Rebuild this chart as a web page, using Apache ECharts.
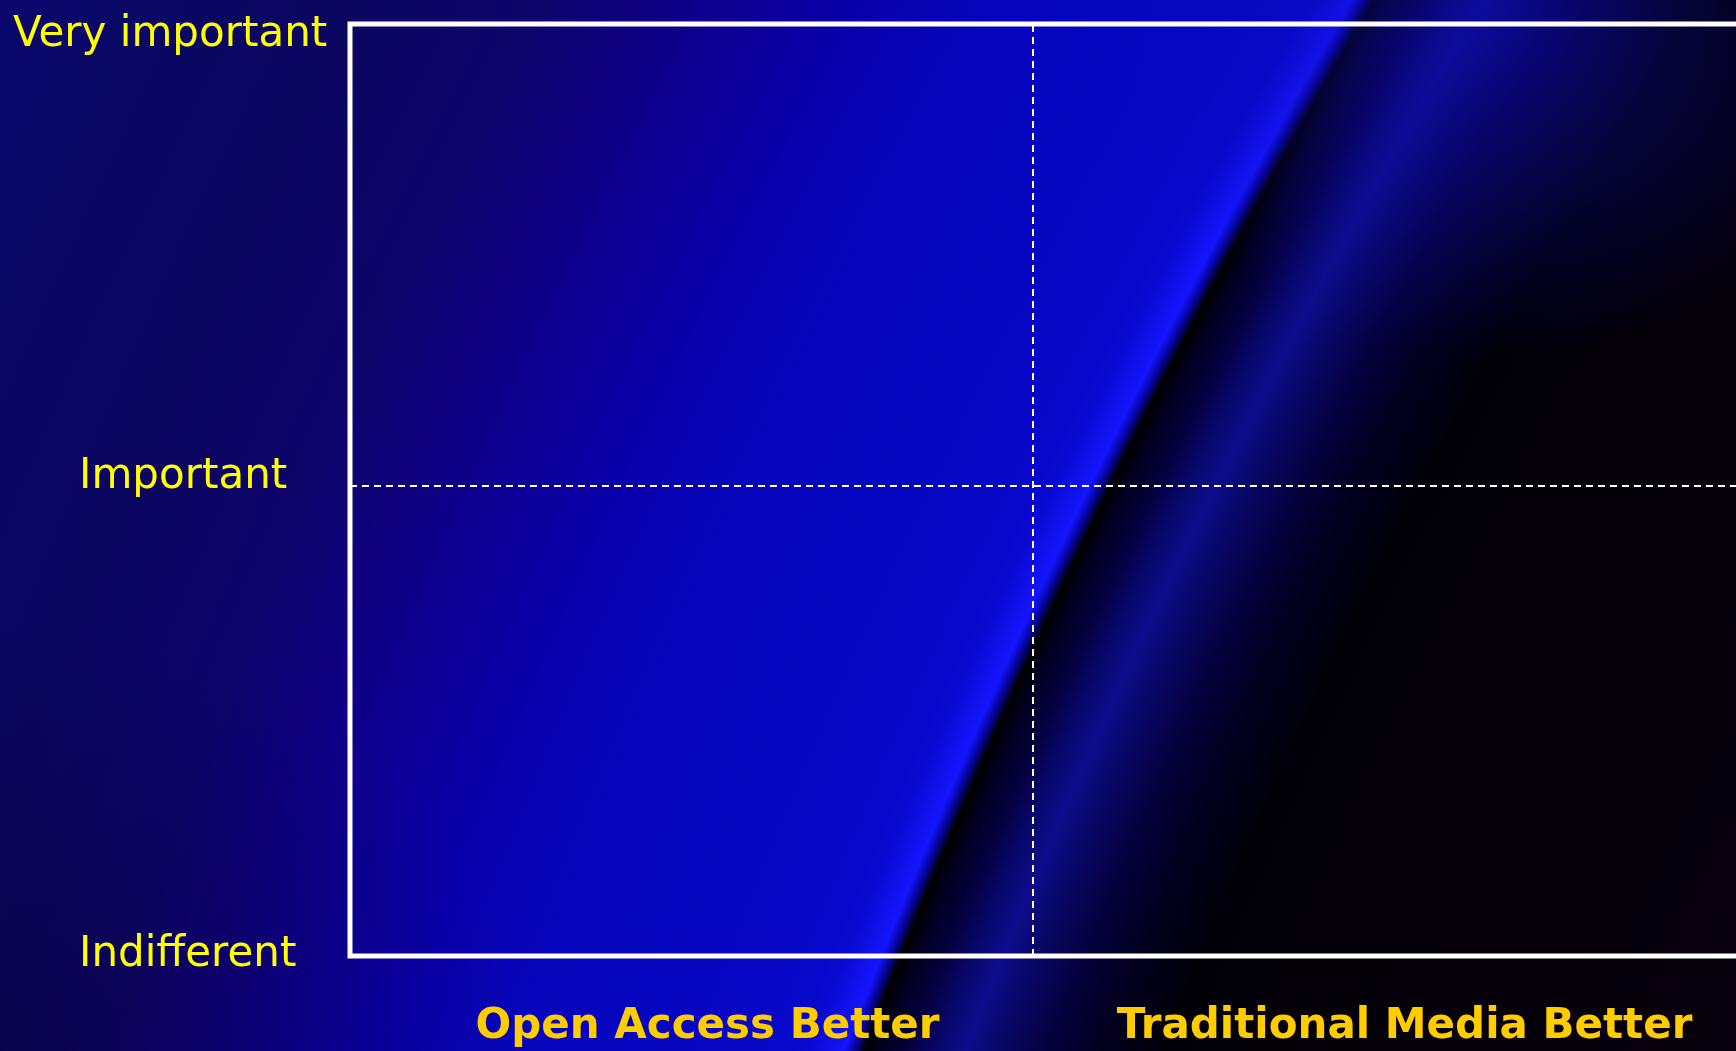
<!DOCTYPE html>
<html>
<head>
<meta charset="utf-8">
<script src="https://cdn.jsdelivr.net/npm/echarts@6/dist/echarts.min.js"></script>
<style>
html, body { margin: 0; padding: 0; width: 1736px; height: 1051px; overflow: hidden; }
body {
  background:
    radial-gradient(ellipse 520px 420px at 0% 100%, rgba(6,0,50,0.5), rgba(6,0,50,0) 100%),
    radial-gradient(ellipse 380px 330px at 1500px 30px, rgba(14,10,170,0.55), rgba(14,10,170,0) 100%),
    radial-gradient(circle 8200px at 7267px 3508px,
      #08000e 6050px, #040008 6460px, #010008 6577px, #03001e 6636px, #05003e 6690px,
      #08086a 6736px, #0c0c8c 6764px, #08086c 6790px, #050042 6815px, #020020 6843px,
      #000000 6858px, #0505a0 6868px, #1414ff 6877px, #1010ea 6890px, #0909d0 6912px,
      #0707c6 6960px, #0606c0 7060px, #0605bc 7180px, #0a00ac 7300px, #0e0096 7400px,
      #10007e 7500px, #0e046c 7580px, #0b0660 7750px, #0a0866 7950px, #0a0872 8090px);
}
#chart { width: 1736px; height: 1051px; }
</style>
</head>
<body>
<div id="chart"></div>
<script>
// Y axis: importance scale
const yValues = [0, 1, 2];
const yLabels = ['Indifferent', 'Important', 'Very important'];
// X axis: comparison labels
const xValues = [1, 3];
const xLabels = ['Open Access Better', 'Traditional Media Better'];
// Quadrant dividers
const xDivider = [1.932];
const yDivider = [1.015];

const chart = echarts.init(document.getElementById('chart'), null, { renderer: 'canvas' });

const shadow = { textShadowColor: 'rgba(0,0,0,0.9)', textShadowOffsetX: 2, textShadowOffsetY: 2, textShadowBlur: 0 };
const yFont = { color: '#FFFF00', fontFamily: 'DejaVu Sans', fontSize: 42 };
const xFont = { color: '#FFCC00', fontFamily: 'DejaVu Sans', fontWeight: 'bold', fontSize: 42 };

const option = {
  backgroundColor: 'transparent',
  animation: false,
  grid: {
    left: 350, top: 24, width: 1416, bottom: 95,
    outerBoundsMode: 'none', containLabel: false,
    show: true, borderColor: '#ffffff', borderWidth: 5, backgroundColor: 'transparent'
  },
  xAxis: {
    type: 'value', min: 0, max: 4, interval: 1,
    axisLine: { show: false }, axisTick: { show: false }, splitLine: { show: false },
    axisLabel: {
      margin: 50,
      ...xFont, ...shadow,
      showMinLabel: false, showMaxLabel: false,
      formatter: function (v) {
        const i = xValues.indexOf(v);
        if (i < 0) return '';
        return (i === 0 ? '{l|' : '{r|') + xLabels[i] + '}';
      },
      rich: {
        l: { ...xFont, ...shadow, padding: [0, 0, 0, 7] },
        r: { ...xFont, ...shadow, padding: [0, 15, 0, 0] }
      }
    }
  },
  yAxis: {
    type: 'value', min: 0, max: 2, interval: 1,
    axisLine: { show: false }, axisTick: { show: false }, splitLine: { show: false },
    axisLabel: {
      align: 'left', margin: 337,
      ...yFont, ...shadow,
      formatter: function (v) {
        const i = yValues.indexOf(v);
        if (i < 0) return '';
        if (i === 2) return '{t|' + yLabels[i] + '}';
        if (i === 1) return '{m|' + yLabels[i] + '}';
        return '{b|' + yLabels[i] + '}';
      },
      rich: {
        t: { ...yFont, ...shadow, padding: [22, 0, 0, 0] },
        m: { ...yFont, ...shadow, padding: [0, 0, 26, 66] },
        b: { ...yFont, ...shadow, padding: [0, 0, 2, 66] }
      }
    }
  },
  series: [{
    type: 'scatter',
    data: [],
    markLine: {
      silent: true,
      symbol: ['none', 'none'],
      label: { show: false },
      lineStyle: { color: '#ffffff', width: 2, type: [7, 5] },
      data: xDivider.map(v => ({ xAxis: v })).concat(yDivider.map(v => ({ yAxis: v })))
    }
  }]
};
chart.setOption(option);
</script>
</body>
</html>
